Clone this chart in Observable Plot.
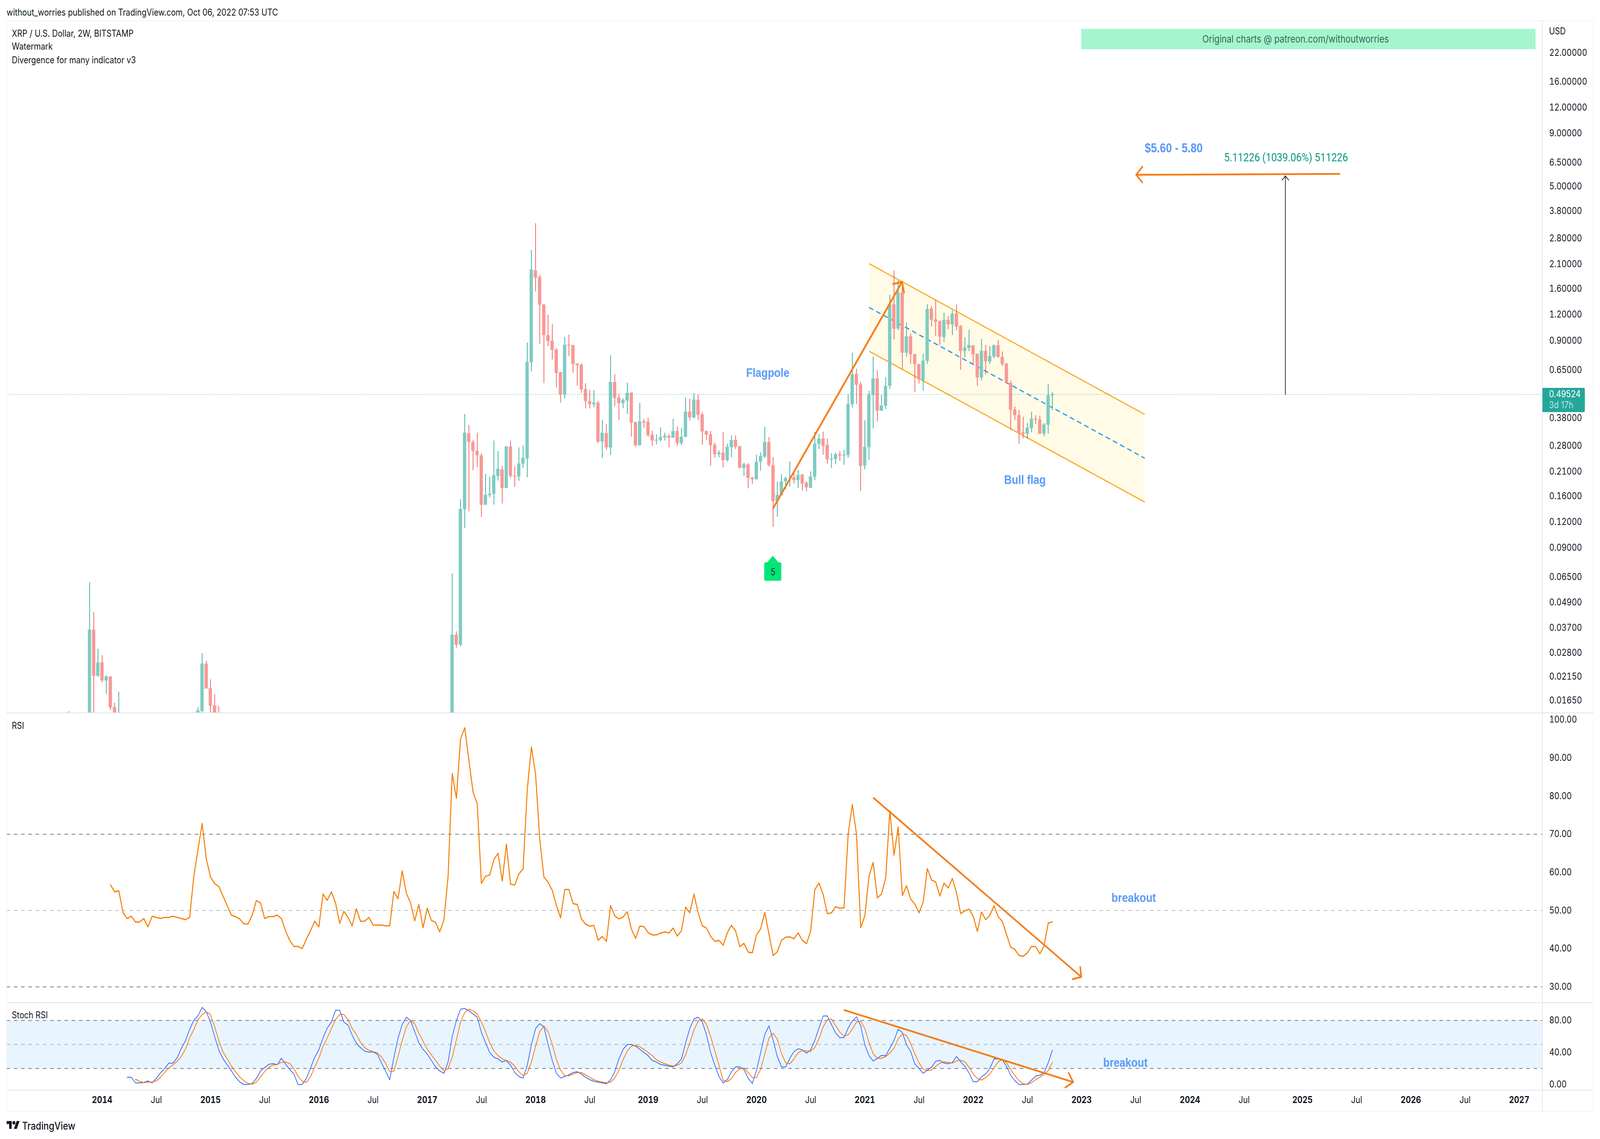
<!DOCTYPE html>
<html>
<head>
<meta charset="utf-8">
<title>XRP / U.S. Dollar, 2W, BITSTAMP</title>
<script src="https://cdn.jsdelivr.net/npm/d3@7"></script>
<script src="https://cdn.jsdelivr.net/npm/@observablehq/plot@0.6"></script>
<style>
html,body{margin:0;padding:0;background:#fff;overflow:hidden;}
#page{position:absolute;left:0;top:0;width:4864px;height:2916px;overflow:hidden;font-family:Inter,sans-serif;color:#131722;transform-origin:0 0;}
.t{position:absolute;white-space:nowrap;font-size:24px;line-height:30px;}
.b{position:absolute;}
</style>
</head>
<body>
<div id="page"></div>
<script>
// Candle positions: one step per two-week bar, bar 0 is the first bar of 2014
const candleK = [-8,-3,-2,-1,0,1,2,3,4,23,24,25,26,27,28, ...d3.range(84,229)];
const opens = [.0118,.0125,.03621,.02169,.02514,.02059,.0215,.01532,.0135,.0135,.01468,.02482,.01888,.0156,.0136,
.0075,.0342,.0306,.138,.3206,.2916,.2639,.2511,.1448,.1612,
.1636,.1997,.2147,.1746,.2774,.1997,.1987,.2291,.2425,.7044,
1.961,1.824,1.339,.9545,.8945,.8137,.6325,.4933,.8598,.8534,
.6957,.6871,.525,.4588,.443,.4508,.2924,.3214,.2741,.5672,
.4775,.4487,.4612,.5045,.363,.281,.366,.3649,.3157,.296,
.2976,.3068,.3113,.3054,.3288,.2874,.3082,.4081,.3825,.4646,
.3962,.3288,.3174,.2821,.2543,.2588,.2382,.2748,.2983,.2774,
.2185,.2273,.1958,.1923,.2339,.2476,.2908,.2252,.1509,.161,
.1882,.1949,.1969,.1908,.2028,.1851,.1749,.1979,.2856,.3021,
.2818,.2394,.2411,.2543,.2505,.2517,.4427,.6205,.5522,.2241,
.2749,.4915,.59,.4122,.4354,.5423,1.346,1.028,1.532,.7851,
.9421,.7716,.6923,.5794,.7168,1.282,1.137,1.111,.9348,1.13,
1.075,1.219,1.056,.7989,.8273,.8533,.7761,.5952,.802,.7112,
.7525,.8533,.7497,.6962,.5617,.4183,.3925,.3239,.319,.3398,
.3775,.3738,.3201,.3527,.4894];
const highs = [.01462,.0612,.04401,.02926,.02719,.02179,.0216,.01608,.01816,.01526,.0279,.02558,.02086,.01768,.01546,
.0676,.0355,.1542,.397,.352,.2976,.323,.2575,.2043,.1977,
.296,.2633,.2234,.2774,.296,.2223,.2741,.2795,.8793,2.46,
3.308,1.865,1.353,1.197,1.0785,.826,.6342,.9357,.9592,.8577,
.6992,.6992,.5602,.5184,.5197,.46,.3722,.3551,.7628,.6188,
.4982,.4727,.5629,.5045,.3649,.4487,.3759,.3806,.3304,.3174,
.3428,.323,.3191,.3769,.3463,.3403,.4775,.4704,.502,.4933,
.4061,.3311,.3296,.2888,.2652,.3255,.2859,.3136,.3136,.2789,
.2313,.2303,.1975,.2529,.2598,.3446,.3078,.2455,.1875,.2045,
.1982,.2348,.2072,.2136,.2045,.1888,.21,.3256,.3181,.3267,
.3021,.2573,.2585,.2633,.2664,.494,.7853,.6574,.567,.3707,
.5149,.7511,.6466,.4915,.598,1.494,1.96,1.755,1.728,1.098,
.9716,.7761,.6923,.7761,1.343,1.322,1.415,1.126,1.224,1.182,
1.255,1.346,1.066,.9311,1.014,.8533,.7775,.915,.8566,.8451,
.86,.9062,.7959,.7003,.575,.4314,.4151,.3857,.3595,.4079,
.3925,.3908,.3595,.555,.5068];
const lows = [.0112,.0118,.0125,.02144,.02015,.01776,.01481,.0125,.0125,.0128,.0139,.01882,.0135,.0135,.012,
.0065,.0296,.0301,.1118,.1347,.2131,.2202,.1266,.1448,.1572,
.1452,.1895,.147,.1746,.1948,.1772,.1891,.2185,.1967,.6375,
1.551,.8683,.5602,.847,.7292,.5342,.4508,.4727,.7552,.6297,
.5436,.502,.4227,.4227,.428,.2874,.2431,.2666,.2518,.4334,
.3705,.4237,.3972,.309,.2761,.2795,.3412,.3082,.2789,.2831,
.2931,.296,.2741,.3054,.2789,.281,.3068,.3696,.3788,.3722,
.2821,.2976,.2239,.2444,.2456,.2196,.2341,.2456,.2694,.2175,
.1992,.1741,.183,.1923,.2118,.2434,.2211,.1134,.127,.161,
.1726,.1779,.1836,.1741,.1696,.1681,.1749,.1908,.269,.2529,
.229,.2182,.227,.2359,.2259,.2442,.4276,.445,.1689,.2146,
.239,.3383,.3658,.4116,.4205,.5257,.9115,1.01,.6505,.7511,
.6937,.5078,.5572,.5147,.695,1.048,.9476,.8551,.8854,1.02,
.9548,1.01,.6493,.7453,.7989,.6923,.5434,.5771,.6187,.6923,
.7396,.7423,.6776,.555,.3327,.3731,.2856,.3032,.3008,.3239,
.3561,.3184,.3103,.3201,.4158];
const closes = [.0125,.03621,.02169,.02514,.02059,.0215,.01526,.0135,.0142,.01474,.02482,.01882,.01553,.014,.0128,
.0342,.0306,.1384,.323,.2916,.2639,.2511,.1448,.162,.164,
.2012,.2163,.1746,.2774,.1997,.1977,.2291,.2444,.7079,1.981,
1.806,1.339,.9545,.8945,.8098,.6265,.4933,.8577,.8512,.6922,
.6837,.5224,.4588,.443,.4508,.2924,.323,.2741,.5672,.4752,
.4487,.4646,.502,.3613,.281,.366,.3613,.3143,.296,.2983,
.3082,.312,.3054,.3288,.2874,.309,.4081,.3825,.467,.3942,
.3271,.3157,.281,.2543,.2588,.2382,.2761,.2976,.2761,.2185,
.2273,.1953,.1923,.2339,.2497,.2918,.2252,.1509,.1618,.1882,
.1949,.1965,.1908,.2018,.1836,.1758,.1985,.2856,.3021,.2795,
.2403,.2423,.2543,.2509,.2529,.445,.6184,.5505,.2229,.2759,
.494,.59,.4116,.4369,.5431,1.346,1.024,1.532,.7851,.9421,
.77,.691,.5839,.7196,1.277,1.132,1.106,.9384,1.13,1.075,
1.212,1.05,.7989,.8306,.8566,.7716,.5975,.802,.714,.7585,
.8533,.7497,.6923,.5605,.4175,.3925,.322,.319,.3412,.3775,
.3738,.319,.3534,.4894,.49524];

// RSI, first value at bar 2
const rsi = [56.7,54.9,55.2,49.5,47.9,48.5,47,47,47.9,45.7,
48.5,48.2,47.9,48.2,48.2,48.5,48.2,47.9,47.6,48.2,
59,66,72.8,63.5,58.8,57,56.3,53.8,51.3,48.8,
48.4,47.8,46.5,46.5,48.8,52.6,52,47.9,48.4,48.4,
48.8,47.9,44.7,42.2,40.6,40.6,40,42.5,44.7,47.2,
45.7,54.3,52.7,54.9,52,46.6,49.8,48.2,46,50.5,
47.2,47.2,48.2,46.2,46.2,46.2,46,46,55,53.1,
60.4,54.5,52,47.3,51.6,45.5,50.6,47.4,46.9,44.4,
47.5,58.8,85.9,79.4,95,97.9,89.4,81,78,57.1,
59,59.3,63.4,65,57.7,67.4,56.9,56.7,59.6,60.9,
81.6,92.9,85.7,68.7,58.8,57.4,55.3,51.3,48.1,55.5,
55.5,51.8,51.6,47.8,46.4,45.9,46.1,42.2,43.2,41.9,
51.3,48.6,47.8,48.3,49.7,45.1,42.7,45.9,45.8,44.2,
43.6,43.6,44.1,44.4,44.1,45.4,43.3,44.7,50.9,49.4,
54.3,49.4,46,45.4,43.2,41.9,42.2,40.9,44.2,46.1,
44.6,40.5,41.4,39.1,38.9,43.6,45.2,49.5,43.8,38.2,
39.2,42.2,43,43.1,42.6,44.1,42.2,41.3,44.6,55.5,
57.2,54.2,49.2,49.4,51,50.6,50.7,70,77.8,70,
45.5,48.6,59,62.6,53.3,54.3,58.5,76.1,64.5,71.9,
53.9,56.5,53,51.7,49.4,52.2,61,58,57.5,53.8,
57.2,55.9,58.4,54.6,49.2,49.9,50.4,48.5,44.5,49.6,
47.6,48.8,51.2,48.4,47.1,43.7,40.4,39.8,38.2,38,
38.9,40.6,40.5,38.7,40.7,46.7,47];

// Stoch RSI K, first value at bar 6
const stochK = [9,9,2,2,2.6,4.4,2,7.8,14.3,20,
26.7,26.7,33.4,45.2,54.7,68.8,80.2,85.9,96.3,90.8,
77.8,59.9,42.8,32.2,24.9,17.1,9.1,3.3,0,0,
1.3,7.5,16.8,21.2,25.2,26.1,24.6,32.9,25.7,18.7,
13.2,0,0,7.5,20.8,33.9,43.6,58.2,70.4,77.8,
92.7,92.7,77.8,74.2,61.5,51.4,46.1,41.7,40.4,40.7,
37.9,27.4,16.8,5.9,33.9,
58,75,84,80,66,52,44,38,30,22,17,14,28,60,80,94,95,92,88,84,
65,52,40,34,32,28,30,24,15,10,8,24,50,70,76,72,50,30,14,8,
10,12,15,16,13,9,6,4,3,2,1,6,16,32,44,50,50,48,44,40,
36,30,28,25,24,23,22,26,32,52,70,82,84,78,62,40,24,10,
1.9,6.1,15.9,22,22,18.7,8,1.3,17.3,39.7,
62.6,73.3,55.1,34.9,22,22,32.7,41.1,44.7,43.3,
39.1,43.3,55.1,70.5,85.6,85.6,74.7,64.3,58.4,58.7,
70.5,79.4,84.5,73.3,49.5,36,29.3,32.7,36.3,36,
45.3,55.1,69.1,64.9,49.5,41.1,25.7,20.1,13.9,18.1,
21.5,29,30.1,26.8,25.9,27.6,34.9,28.4,22.6,14.5,
3.5,3.5,9.7,13.1,20.1,32.1,31.8,30.4,22.8,11.4,
4.7,0,0,.5,5.5,10.5,11.7,14.5,27.1,43];

// Stoch RSI D, first value at bar 8
const stochD = [6.7,3.9,2.3,3,3,4.6,8.7,15.2,20.5,24.6,
29,35.2,44.4,58.2,68.8,81,87.5,90.8,87.5,72.1,
55,40.4,32.2,23.3,16,9.5,4.9,1.3,.5,3,
9.5,16.3,21.2,24.4,24.9,27.7,28,26.5,20,10.3,
4.1,2.5,9.5,21.7,33,47.7,58.2,69.6,81,87.5,
87.5,81,70,62.3,52.6,46.1,42.8,41,39.5,34.7,
26.5,16,16.8,
35,55,72,80,76,64,54,44,37,30,23,17,20,34,56,78,90,94,92,88,
78,66,52,42,36,32,30,28,23,16,11,14,28,48,66,73,66,50,31,18,
11,11,13,15,15,12,9,6,4,3,2,3,8,18,31,42,48,49,47,44,
40,36,31,28,26,24,23,24,27,37,52,68,79,82,75,60,42,24,
5.2,3.5,7.5,15.3,19.5,20.6,15,8.6,8.6,19.2,
38.3,57.9,64,56.5,38.8,27.1,25.7,32.1,39.7,42.5,
41.9,41.6,46.1,57.3,71.9,80.8,81.9,73.3,65.4,60.4,
62.1,69.1,78,78.9,69.9,52.3,38.3,32.7,32.7,34.9,
39.1,45.3,57,63.5,61.2,50.9,38.3,27.1,19.2,17.3,
18.1,22.8,26.5,28.4,27.6,26.8,29.6,30.4,28.4,21.5,
13.1,7.5,5.5,8.9,13.1,20.9,28.4,31.3,27.1,18.7,
11.1,4.7,1,0,2.4,6.1,9.1,12.5,17.3,27.9];

// Axis ticks
const priceTicks = [22,16,12,9,6.5,5,3.8,2.8,2.1,1.6,1.2,.9,.65,.38,.28,.21,.16,.12,.09,.065,.049,.037,.028,.0215,.0165];
const rsiTicks = [100,90,80,70,60,50,40,30];
const stochTicks = [80,40,0];
const yearBars = [0,26,52,78,104,131,157,183,209,235,261,288,314,340];
const yearLabels = [2014,2015,2016,2017,2018,2019,2020,2021,2022,2023,2024,2025,2026,2027];
const julBars = [13,39,65,91,117,144,170,196,222,248,274,301,327];
const lastPrice = 0.49524;

// Drawings, [bar, price]
const channelBars = [184.1,250.07];
const channelUpper = [2.112,.3973];
const channelLower = [.7988,.15];
const channelMid = [1.299,.2443];
const flagpole = [[161,.1397],[191.93,1.727]];
const flagpoleHead = [[189.8,1.688],[191.93,1.727],[192.4,1.538]];
const targetLine = [[296.9,5.734],[248.1,5.681]];
const targetHead = [[249.6,6.21],[248.1,5.681],[249.6,5.214]];
const measure = [[283.9,lastPrice],[283.9,5.607]];
const measureHead = [[283.1,5.355],[283.9,5.607],[284.7,5.355]];
const pinBox = {k1:158.9,k2:163,p1:.0623,p2:.0764};
const pinTip = [{k:159.6,a:.0764,b:.0764},{k:160.97,a:.0764,b:.0823},{k:162.3,a:.0764,b:.0764}];
const rsiTrend = [[185.1,79.5],[234.93,32.6]];
const rsiTrendHead = [[234.68,35.2],[234.93,32.6],[232.87,32]];
const stochTrend = [[178.1,92.9],[233,3]];
const stochTrendHead = [[231.9,14.4],[233,3],[231.1,-3.76]];

const UP="#26a69a",DOWN="#ef5350",UPB="#7fcbc1",DOWNB="#f79997",ORANGE="#f57c17",BLUE="#5b9cf6",GRID="#787b86";
const xScale = {type:"linear",domain:[(20-310)/12.67,(4689-310)/12.67],axis:null};
const base = {width:4864,marginLeft:20,marginRight:175,marginTop:0,marginBottom:0,style:{fontFamily:"Inter, sans-serif",fontSize:"24px",color:"#131722",background:"transparent",maxWidth:"none"}};
const candles = candleK.map((k,i)=>({k,o:opens[i],h:highs[i],l:lows[i],c:closes[i]}));
const seg = (data,stroke,strokeWidth,extra={})=>Plot.line(data,{x:d=>d[0],y:d=>d[1],stroke,strokeWidth,...extra});
const yAxis = (ticks,fmt)=>Plot.axisY(ticks,{anchor:"right",tickSize:0,tickPadding:20,tickFormat:fmt,label:null,fontSize:24,fill:"#131722"});
const page = document.getElementById("page");
// The layout is 4864 by 2916; fit it to the window actually given
page.style.transform = `scale(${window.innerWidth/4864},${window.innerHeight/2916})`;
const place = (svg,top)=>{svg.style.position="absolute";svg.style.left="0";svg.style.top=top+"px";page.appendChild(svg);};

// Price pane
const channel = channelBars.map((k,i)=>({k,u:channelUpper[i],l:channelLower[i],m:channelMid[i]}));
place(Plot.plot({...base,height:1771,x:xScale,y:{type:"log",domain:[.01436,31.27],axis:null},marks:[
  Plot.areaY(channel,{x:"k",y1:"l",y2:"u",fill:"#fffbe6"}),
  Plot.line(channel,{x:"k",y:"u",stroke:"#ffa726",strokeWidth:3}),
  Plot.line(channel,{x:"k",y:"l",stroke:"#ffa726",strokeWidth:3}),
  Plot.line(channel,{x:"k",y:"m",stroke:"#2196f3",strokeWidth:3,strokeDasharray:"12 12"}),
  Plot.ruleX(candles,{x:"k",y1:"l",y2:"h",stroke:d=>d.c>=d.o?UP:DOWN,strokeWidth:2,clip:true}),
  Plot.rect(candles,{x1:d=>d.k-.395,x2:d=>d.k+.395,y1:"o",y2:"c",fill:d=>d.c>=d.o?UPB:DOWNB,clip:true}),
  Plot.ruleY([lastPrice],{stroke:UP,strokeOpacity:.65,strokeWidth:2,strokeDasharray:"2 4"}),
  seg(flagpole,ORANGE,5),seg(flagpoleHead,ORANGE,5),
  seg(targetLine,ORANGE,4.5),seg(targetHead,ORANGE,4.5),
  seg(measure,"#131722",2),seg(measureHead,"#131722",2),
  Plot.rect([pinBox],{x1:"k1",x2:"k2",y1:"p1",y2:"p2",fill:"#00e676",rx:4}),
  Plot.areaY(pinTip,{x:"k",y1:"a",y2:"b",fill:"#00e676"}),
  Plot.text(["5"],{x:[160.97],y:[.0685],fill:"#2a2e39",fontSize:24}),
  Plot.text(["Flagpole"],{x:[159.7],y:[.6295],fill:BLUE,fontSize:32,fontWeight:700,fontFamily:"Liberation Sans"}),
  Plot.text(["Bull flag"],{x:[221.4],y:[.1916],fill:BLUE,fontSize:32,fontWeight:700,fontFamily:"Liberation Sans"}),
  Plot.text(["$5.60 - 5.80"],{x:[257.1],y:[7.636],fill:BLUE,fontSize:33,fontWeight:700,fontFamily:"Liberation Sans"}),
  Plot.text(["5.11226 (1039.06%) 511226"],{x:[284.05],y:[6.88],fill:"#089981",fontSize:30,fontFamily:"Roboto"}),
  yAxis(priceTicks,d=>d.toFixed(5))
]}),54);

// RSI pane
const rsiData = rsi.map((v,i)=>({k:i+2,v}));
place(Plot.plot({...base,height:740,x:xScale,y:{type:"linear",domain:[25.9,101.65],axis:null},marks:[
  Plot.ruleY([70,30],{stroke:GRID,strokeWidth:2,strokeDasharray:"11 11"}),
  Plot.ruleY([50],{stroke:GRID,strokeOpacity:.5,strokeWidth:2,strokeDasharray:"11 11"}),
  Plot.line(rsiData,{x:"k",y:"v",stroke:"#f57c00",strokeWidth:3}),
  seg(rsiTrend,ORANGE,4.5),seg(rsiTrendHead,ORANGE,4.5),
  Plot.text(["breakout"],{x:[247.5],y:[53.3],fill:BLUE,fontSize:32,fontWeight:700,fontFamily:"Liberation Sans"}),
  yAxis(rsiTicks,d=>d.toFixed(2))
]}),1826);

// Stoch RSI pane and time axis
const kData = stochK.map((v,i)=>({k:i+6,v}));
const dData = stochD.map((v,i)=>({k:i+8,v}));
place(Plot.plot({...base,height:277,marginBottom:54,x:xScale,y:{type:"linear",domain:[-6.83,101.95],axis:null},marks:[
  Plot.rect([{k1:xScale.domain[0],k2:xScale.domain[1],a:20,b:80}],{x1:"k1",x2:"k2",y1:"a",y2:"b",fill:"#2196f3",fillOpacity:.1}),
  Plot.ruleY([80,20],{stroke:GRID,strokeWidth:2,strokeDasharray:"11 11"}),
  Plot.ruleY([50],{stroke:GRID,strokeOpacity:.5,strokeWidth:2,strokeDasharray:"11 11"}),
  Plot.line(kData,{x:"k",y:"v",stroke:"#2962ff",strokeWidth:2}),
  Plot.line(dData,{x:"k",y:"v",stroke:"#ff6d00",strokeWidth:2}),
  seg(stochTrend,ORANGE,4.5),seg(stochTrendHead,ORANGE,4.5),
  Plot.text(["breakout"],{x:[245.5],y:[27.3],fill:BLUE,fontSize:32,fontWeight:700,fontFamily:"Liberation Sans"}),
  yAxis(stochTicks,d=>d.toFixed(2)),
  Plot.axisX(yearBars,{anchor:"bottom",tickSize:0,tickPadding:16,label:null,fontSize:24,fontWeight:700,fill:"#131722",tickFormat:d=>String(yearLabels[yearBars.indexOf(d)])}),
  Plot.axisX(julBars,{anchor:"bottom",tickSize:0,tickPadding:16,label:null,fontSize:24,fill:"#131722",tickFormat:()=>"Jul"})
]}),2567);

// Frame lines
const box=(l,t,w,h,bg)=>{const d=document.createElement("div");d.className="b";d.style.cssText=`left:${l}px;top:${t}px;width:${w}px;height:${h}px;background:${bg}`;page.appendChild(d);return d;};
const text=(s,l,cy,css="")=>{const d=document.createElement("div");d.className="t";d.textContent=s;d.style.cssText=`left:${l}px;top:${cy-15}px;${css}`;page.appendChild(d);return d;};
box(19,52,4826,2,"#f0f3fa");box(19,2844,4826,2,"#f0f3fa");box(19,52,2,2794,"#f0f3fa");box(4843,52,2,2794,"#f0f3fa");
box(4688,52,2,2794,"#e0e3eb");
box(20,1824,4824,2,"#e0e3eb");box(20,2566,4824,2,"#e0e3eb");box(20,2790,4824,2,"#e0e3eb");

// Header, legends, banner and price tag
text("without_worries published on TradingView.com, Oct 06, 2022 07:53 UTC",20,32);
text("XRP / U.S. Dollar, 2W, BITSTAMP",36,86);
text("Watermark",36,119);
text("Divergence for many indicator v3",36,154);
text("RSI",36,1858);
text("Stoch RSI",36,2599);
text("USD",4709,80);
box(3287,74,1381,52,"#a5f6cf");
text("Original charts @ patreon.com/withoutworries",3655,100,"font-size:26px;color:#35695a;");
const tag=box(4689,993,129,62,"#26a69a");tag.style.borderRadius="0 4px 4px 0";
text("0.49524",4709,1009,"color:#fff;");
text("3d 17h",4709,1037,"color:#bfe5e0;");

// TradingView mark
const logo=document.createElementNS("http://www.w3.org/2000/svg","svg");
logo.setAttribute("viewBox","0 4 36 18");
logo.style.cssText="position:absolute;left:20px;top:2870px;width:40px;height:20px;";
logo.innerHTML='<path fill="#131722" d="M14 22H7V11H0V4h14v18zM28 22h-8l7.5-18h8L28 22z"/><circle fill="#131722" cx="20" cy="8" r="4"/>';
page.appendChild(logo);
text("TradingView",67,2883,"font-size:27px;font-weight:500;");
</script>
</body>
</html>
